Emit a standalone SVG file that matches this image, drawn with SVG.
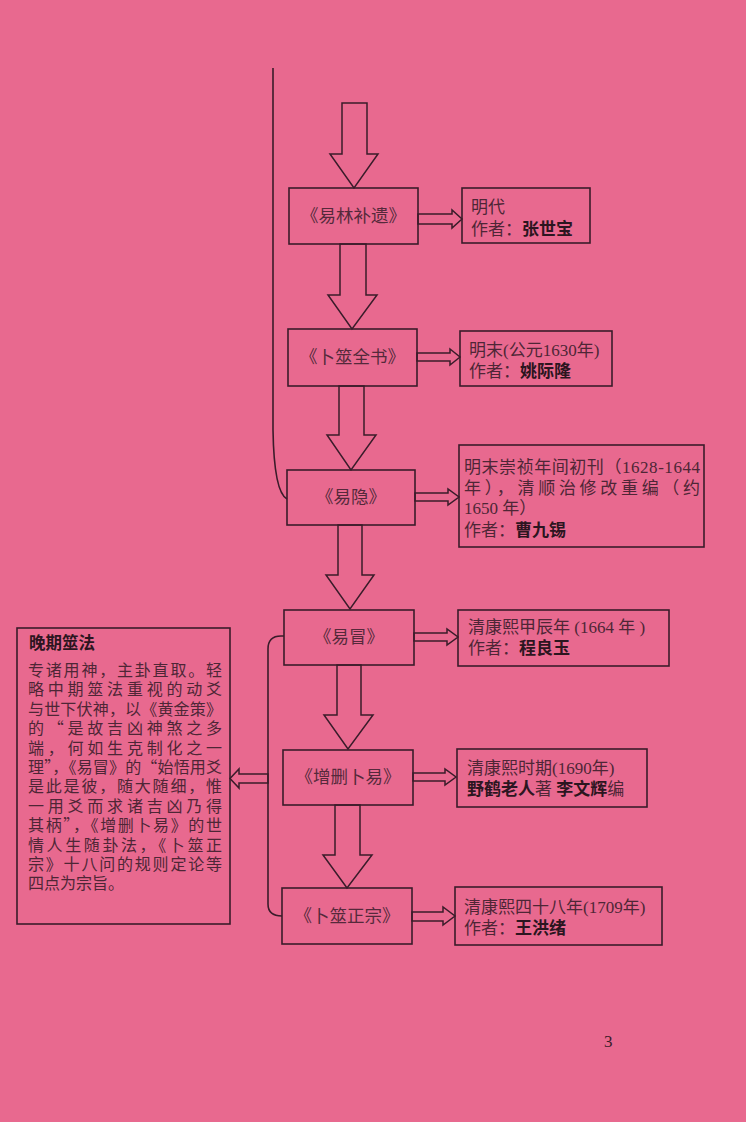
<svg xmlns="http://www.w3.org/2000/svg" width="746" height="1122" viewBox="0 0 746 1122">
<style>
.bg{fill:#e8698f}
.box{fill:none;stroke:#3a1c2a;stroke-width:1.6}
.arr{fill:none;stroke:#3a1c2a;stroke-width:1.5;stroke-linejoin:miter}
.ln{fill:none;stroke:#3a1c2a;stroke-width:1.6}
.lbl{font-family:"Liberation Serif","Noto Sans CJK SC",sans-serif;font-size:17.5px;fill:#55293b;text-anchor:middle}
.info{font-family:"Liberation Serif","Noto Sans CJK SC",sans-serif;font-size:17px;fill:#4e2636}
.b{font-family:"Noto Sans CJK SC",sans-serif;font-weight:700;fill:#2c1520}
.body{font-family:"Noto Sans CJK SC",sans-serif;font-size:16px;fill:#4e2636}
.ttl{font-family:"Noto Sans CJK SC",sans-serif;font-size:16.5px;font-weight:700;fill:#2c1520}
</style>
<rect class="bg" x="0" y="0" width="746" height="1122"/>

<g id="connectors">
  <path class="ln" d="M273,68 L273,430 Q274,492 287,499"/>
  <path class="ln" d="M284,636 L281,636 Q268,636 268,649 L268,904 Q268,916 282,916"/>
  <polygon class="arr" points="342,103 367,103 367,154 378,154 354,188 330,154 342,154"/>
  <polygon class="arr" points="340,244 366,244 366,295 377,295 352,329 328,295 340,295"/>
  <polygon class="arr" points="339,386 364,386 364,435 376,435 351,470 327,435 339,435"/>
  <polygon class="arr" points="338,525 362,525 362,575 374,575 350,609 326,575 338,575"/>
  <polygon class="arr" points="337,665 361,665 361,715 373,715 348,749 324,715 337,715"/>
  <polygon class="arr" points="335,805 360,805 360,855 372,855 347,888 323,855 335,855"/>
  <polygon class="arr" points="418,214 452,214 452,210 462,219 452,228 452,224 418,224"/>
  <polygon class="arr" points="417,353 450,353 450,349 460,357 450,365 450,361 417,361"/>
  <polygon class="arr" points="415,493 448,493 448,489 459,497 448,505 448,501 415,501"/>
  <polygon class="arr" points="414,633 447,633 447,629 458,637 447,645 447,641 414,641"/>
  <polygon class="arr" points="413,773 445,773 445,769 456,777 445,785 445,781 413,781"/>
  <polygon class="arr" points="412,912 443,912 443,907 455,916 443,925 443,921 412,921"/>
  <polygon class="arr" points="268,774 239,774 239,769 230,778.5 239,788 239,783 268,783"/>
</g>

<g id="n1">
  <rect class="box" x="289" y="188" width="129" height="56"/>
  <text class="lbl" x="353.5" y="222">《易林补遗》</text>
</g>
<g id="i1">
  <rect class="box" x="462" y="188" width="128" height="55"/>
  <text class="info" x="471" y="213">明代</text>
  <text class="info" x="471" y="235">作者：<tspan class="b">张世宝</tspan></text>
</g>

<g id="n2">
  <rect class="box" x="288" y="329" width="129" height="57"/>
  <text class="lbl" x="352.5" y="363">《卜筮全书》</text>
</g>
<g id="i2">
  <rect class="box" x="460" y="331" width="152" height="55"/>
  <text class="info" x="469" y="356">明末(公元1630年)</text>
  <text class="info" x="469" y="377">作者：<tspan class="b">姚际隆</tspan></text>
</g>

<g id="n3">
  <rect class="box" x="287" y="470" width="128" height="55"/>
  <text class="lbl" x="351" y="503">《易隐》</text>
</g>
<g id="i3">
  <rect class="box" x="459" y="445" width="245" height="102"/>
  <text class="info" x="464" y="473" textLength="236" lengthAdjust="spacing">明末崇祯年间初刊（1628-1644</text>
  <text class="info" x="464" y="494" textLength="236" lengthAdjust="spacing">年），清顺治修改重编（约</text>
  <text class="info" x="464" y="514">1650 年）</text>
  <text class="info" x="464" y="536">作者：<tspan class="b">曹九锡</tspan></text>
</g>

<g id="n4">
  <rect class="box" x="284" y="610" width="130" height="55"/>
  <text class="lbl" x="349" y="643">《易冒》</text>
</g>
<g id="i4">
  <rect class="box" x="458" y="610" width="211" height="56"/>
  <text class="info" x="468" y="633">清康熙甲辰年 (1664 年 )</text>
  <text class="info" x="468" y="654">作者：<tspan class="b">程良玉</tspan></text>
</g>

<g id="n5">
  <rect class="box" x="283" y="750" width="130" height="55"/>
  <text class="lbl" x="348" y="783">《增删卜易》</text>
</g>
<g id="i5">
  <rect class="box" x="457" y="749" width="190" height="58"/>
  <text class="info" x="467" y="774">清康熙时期(1690年)</text>
  <text class="info" x="467" y="795"><tspan class="b">野鹤老人</tspan>著 <tspan class="b">李文辉</tspan>编</text>
</g>

<g id="n6">
  <rect class="box" x="282" y="888" width="130" height="56"/>
  <text class="lbl" x="347" y="922">《卜筮正宗》</text>
</g>
<g id="i6">
  <rect class="box" x="455" y="887" width="207" height="58"/>
  <text class="info" x="464" y="913">清康熙四十八年(1709年)</text>
  <text class="info" x="464" y="934">作者：<tspan class="b">王洪绪</tspan></text>
</g>

<g id="late">
  <rect class="box" x="17" y="628" width="213" height="296"/>
  <text class="ttl" x="29" y="649">晚期筮法</text>
  <text class="body" x="28" y="676" textLength="194" lengthAdjust="spacing">专诸用神，主卦直取。轻</text>
  <text class="body" x="28" y="695.4" textLength="194" lengthAdjust="spacing">略中期筮法重视的动爻</text>
  <text class="body" x="28" y="714.8" textLength="194" lengthAdjust="spacing">与世下伏神，以《黄金策》</text>
  <text class="body" x="28" y="734.2" textLength="194" lengthAdjust="spacing">的“是故吉凶神煞之多</text>
  <text class="body" x="28" y="753.6" textLength="194" lengthAdjust="spacing">端，何如生克制化之一</text>
  <text class="body" x="28" y="773" textLength="194" lengthAdjust="spacing">理”，《易冒》的“始悟用爻</text>
  <text class="body" x="28" y="792.4" textLength="194" lengthAdjust="spacing">是此是彼，随大随细，惟</text>
  <text class="body" x="28" y="811.8" textLength="194" lengthAdjust="spacing">一用爻而求诸吉凶乃得</text>
  <text class="body" x="28" y="831.2" textLength="194" lengthAdjust="spacing">其柄”，《增删卜易》的世</text>
  <text class="body" x="28" y="850.6" textLength="194" lengthAdjust="spacing">情人生随卦法，《卜筮正</text>
  <text class="body" x="28" y="870" textLength="194" lengthAdjust="spacing">宗》十八问的规则定论等</text>
  <text class="body" x="28" y="889.4">四点为宗旨。</text>
</g>

<text x="604" y="1047" style="font-family:'Liberation Serif',serif;font-size:17px;fill:#3a1c2a">3</text>
</svg>
